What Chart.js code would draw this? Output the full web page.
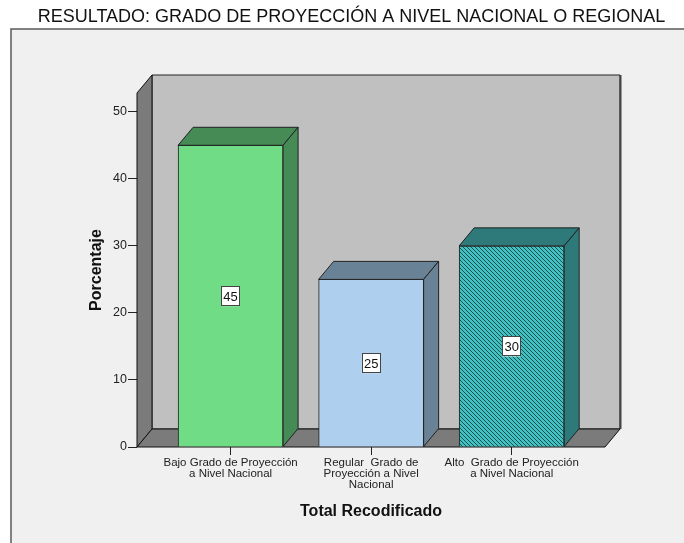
<!DOCTYPE html>
<html>
<head>
<meta charset="utf-8">
<script src="https://cdn.jsdelivr.net/npm/chart.js"></script>
<style>
  html, body { margin: 0; padding: 0; background: #fff; }
  #contenedor { width: 684px; height: 543px; }
</style>
</head>
<body>
<div id="contenedor"><canvas id="grafico"></canvas></div>
<script>
// datos del grafico
const titulo = "RESULTADO: GRADO DE PROYECCIÓN A NIVEL NACIONAL O REGIONAL";
const tituloX = "Total Recodificado";
const tituloY = "Porcentaje";
const categorias = [
    ["Bajo Grado de Proyección", "a Nivel Nacional"],
    ["Regular  Grado de", "Proyección a Nivel", "Nacional"],
    ["Alto  Grado de Proyección", "a Nivel Nacional"]
];
const porcentajes = [45, 25, 30];
const ticksY = [0, 10, 20, 30, 40, 50];

const fuente = '"Liberation Sans", Arial, sans-serif';
const colorFrente = ['#70dc86', '#aed0ee', null];
const colorLado = ['#468a55', '#6a8296', '#2e7a7a'];
const prof = { dx: 15, dy: -18 };

// trama diagonal de la tercera barra
const trama = (() => {
    const c = document.createElement('canvas');
    c.width = 4; c.height = 4;
    const g = c.getContext('2d');
    g.fillStyle = '#40c2c2';
    g.fillRect(0, 0, 4, 4);
    g.fillStyle = '#1d4f4f';
    for (let i = 0; i < 4; i++) g.fillRect(i, i, 1, 1);
    return g.createPattern(c, 'repeat');
})();
colorFrente[2] = trama;

const poligono = (ctx, pts, relleno, borde) => {
    ctx.beginPath();
    ctx.moveTo(pts[0][0], pts[0][1]);
    pts.slice(1).forEach(p => ctx.lineTo(p[0], p[1]));
    ctx.closePath();
    ctx.fillStyle = relleno;
    ctx.fill();
    ctx.strokeStyle = borde;
    ctx.lineWidth = 1;
    ctx.stroke();
};

const efecto3d = {
    id: 'efecto3d',
    beforeDraw(chart) {
        const { ctx, width, height } = chart;
        ctx.save();
        ctx.fillStyle = '#ffffff';
        ctx.fillRect(0, 0, width, height);
        ctx.fillStyle = '#f0f0f0';
        ctx.fillRect(11, 29, width - 11, height - 29);
        ctx.strokeStyle = '#5a5a5a';
        ctx.lineWidth = 1.5;
        ctx.beginPath();
        ctx.moveTo(11, height);
        ctx.lineTo(11, 29);
        ctx.lineTo(width, 29);
        ctx.stroke();
        ctx.fillStyle = '#111';
        ctx.font = '18px ' + fuente;
        ctx.textAlign = 'center';
        ctx.textBaseline = 'alphabetic';
        ctx.fillText(titulo, 351.5, 22);
        ctx.restore();
    },
    beforeDatasetsDraw(chart) {
        const { ctx, chartArea } = chart;
        const y = chart.scales.y;
        const L = chartArea.left, R = chartArea.right;
        const T = chartArea.top, B = y.getPixelForValue(0);
        const { dx, dy } = prof;
        ctx.save();
        // pared del fondo
        poligono(ctx, [[L + dx, T + dy], [R + dx, T + dy], [R + dx, B + dy], [L + dx, B + dy]], '#c0c0c0', '#222');
        ctx.strokeStyle = '#444';
        ctx.lineWidth = 2;
        ctx.beginPath();
        ctx.moveTo(R + dx + 0.5, T + dy);
        ctx.lineTo(R + dx + 0.5, B + dy);
        ctx.stroke();
        // pared izquierda
        poligono(ctx, [[L, T], [L + dx, T + dy], [L + dx, B + dy], [L, B]], '#7b7b7b', '#111');
        // piso
        poligono(ctx, [[L, B], [L + dx, B + dy], [R + dx, B + dy], [R, B]], '#7b7b7b', '#111');
        ctx.restore();
    },
    afterDatasetsDraw(chart) {
        const { ctx } = chart;
        const y = chart.scales.y;
        const { dx, dy } = prof;
        const meta = chart.getDatasetMeta(0);
        ctx.save();
        meta.data.forEach((bar, i) => {
            const { x, y: top, base, width } = bar.getProps(['x', 'y', 'base', 'width'], true);
            const izq = x - width / 2, der = x + width / 2;
            poligono(ctx, [[izq, top], [izq + dx, top + dy], [der + dx, top + dy], [der, top]], colorLado[i], '#222');
            poligono(ctx, [[der, top], [der + dx, top + dy], [der + dx, base + dy], [der, base]], colorLado[i], '#222');
        });
        // etiquetas de valor
        ctx.font = '13px ' + fuente;
        ctx.textAlign = 'center';
        ctx.textBaseline = 'middle';
        meta.data.forEach((bar, i) => {
            const v = porcentajes[i];
            const cy = y.getPixelForValue(v / 2);
            const w = ctx.measureText(String(v)).width + 4;
            ctx.fillStyle = '#fff';
            ctx.fillRect(bar.x - w / 2, cy - 10, w, 20);
            ctx.strokeStyle = '#444';
            ctx.lineWidth = 1;
            ctx.strokeRect(Math.round(bar.x - w / 2) + 0.5, Math.round(cy - 10) + 0.5, Math.round(w), 19);
            ctx.fillStyle = '#111';
            ctx.fillText(String(v), bar.x, cy + 1);
        });
        ctx.restore();
    },
    afterDraw(chart) {
        const { ctx, chartArea } = chart;
        ctx.save();
        ctx.fillStyle = '#111';
        ctx.font = 'bold 16px ' + fuente;
        ctx.textAlign = 'center';
        ctx.textBaseline = 'middle';
        ctx.fillText(tituloX, (chartArea.left + chartArea.right) / 2, 512);
        ctx.translate(97, (chartArea.top + chartArea.bottom) / 2);
        ctx.rotate(-Math.PI / 2);
        ctx.fillText(tituloY, 0, 0);
        ctx.restore();
    }
};

new Chart(document.getElementById('grafico'), {
    type: 'bar',
    data: {
        datasets: [{
            data: porcentajes.map((v, i) => ({ x: i + 1, y: v })),
            backgroundColor: colorFrente,
            borderColor: '#222',
            borderWidth: 1,
            barThickness: 105
        }]
    },
    options: {
        responsive: true,
        maintainAspectRatio: false,
        animation: false,
        layout: { padding: { top: 93, right: 79, left: 0, bottom: 0 } },
        plugins: {
            legend: { display: false },
            tooltip: { enabled: false }
        },
        scales: {
            x: {
                type: 'linear',
                offset: false,
                min: 0.334,
                max: 3.664,
                afterBuildTicks: (s) => { s.ticks = categorias.map((c, i) => ({ value: i + 1 })); },
                afterFit: (s) => { s.height = 96; },
                ticks: {
                    autoSkip: false,
                    maxRotation: 0,
                    minRotation: 0,
                    padding: 2,
                    color: '#222',
                    font: { family: fuente, size: 11.5, lineHeight: 0.98 },
                    callback: (v) => categorias[v - 1]
                },
                grid: { offset: false, drawOnChartArea: false, tickLength: 8, color: '#222', tickColor: '#222' },
                border: { display: false }
            },
            y: {
                min: 0,
                max: 52.8,
                afterBuildTicks: (s) => { s.ticks = ticksY.map(v => ({ value: v })); },
                afterFit: (s) => { s.width = 137; },
                ticks: {
                    padding: 1,
                    color: '#222',
                    font: { family: fuente, size: 12.5 }
                },
                grid: { drawOnChartArea: false, tickLength: 9, color: '#222', tickColor: '#222' },
                border: { display: false }
            }
        }
    },
    plugins: [efecto3d]
});
</script>
</body>
</html>
